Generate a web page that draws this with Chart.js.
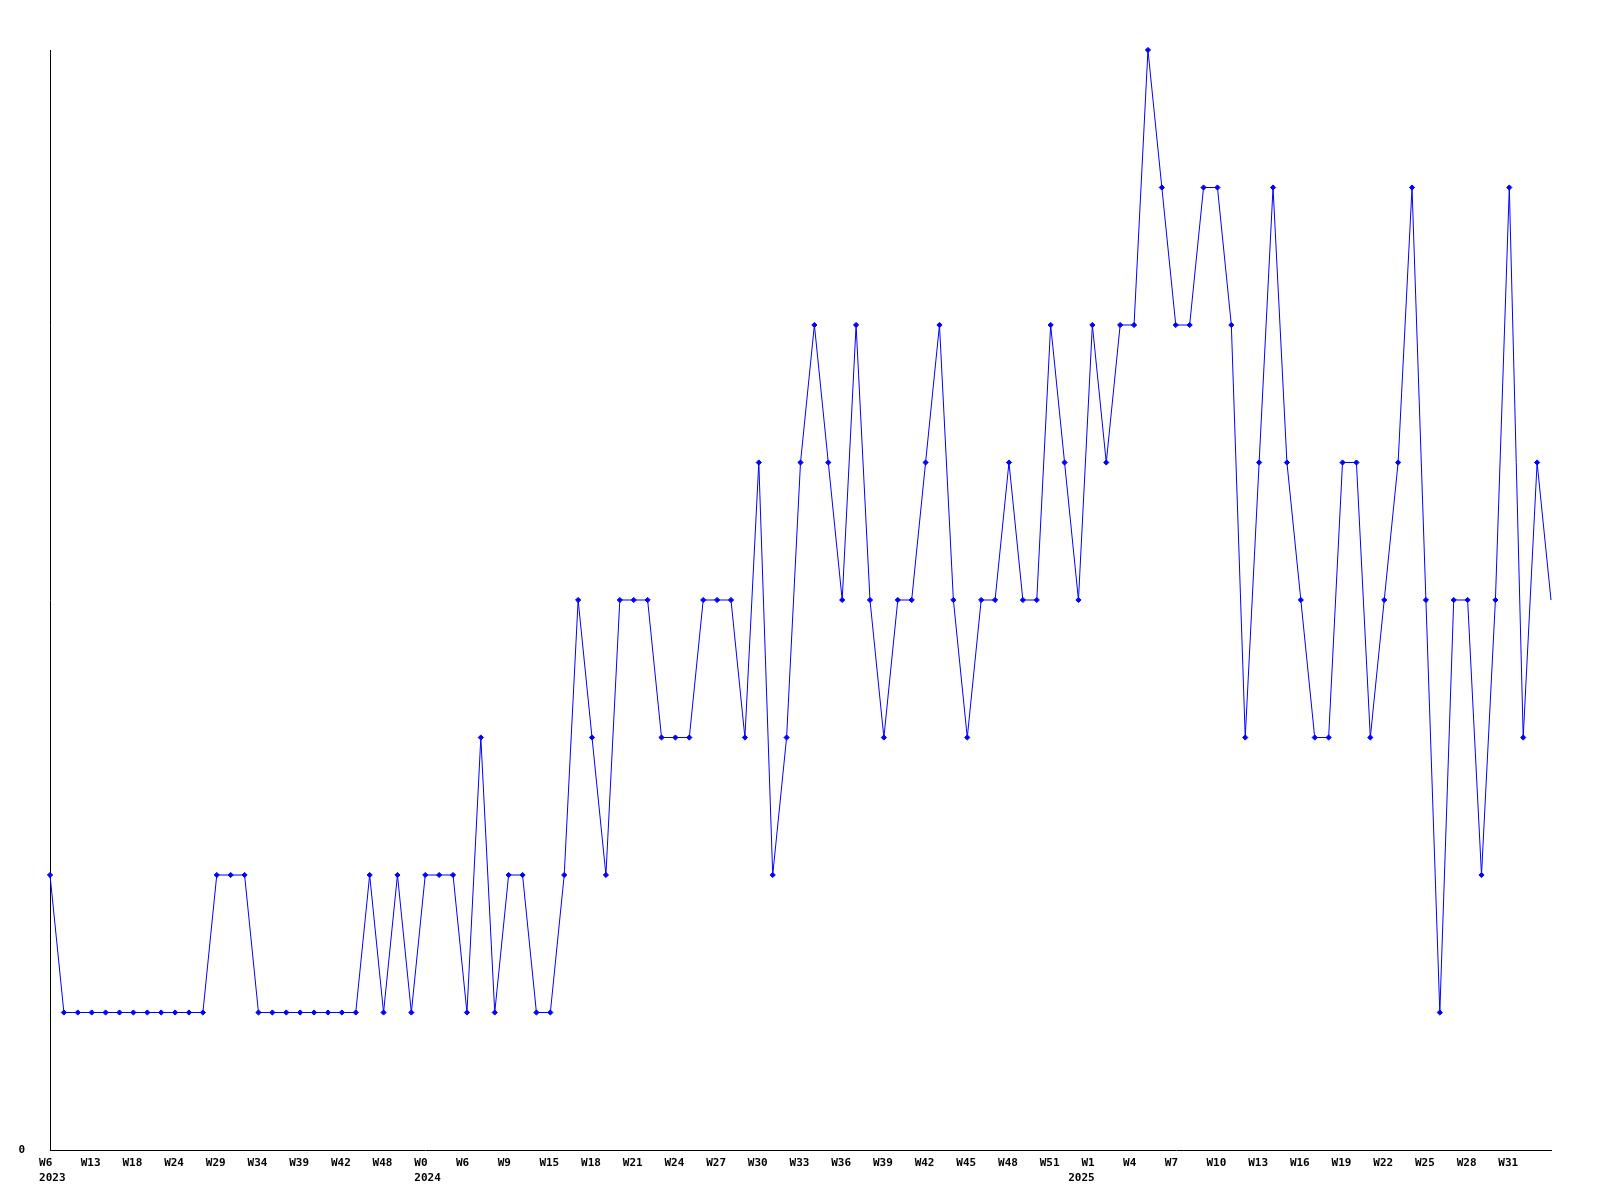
<!DOCTYPE html>
<html>
<head>
<meta charset="utf-8">
<script src="https://cdn.jsdelivr.net/npm/chart.js@4/dist/chart.umd.min.js"></script>
<style>
html,body{margin:0;padding:0;background:#fff;}
#wrap{width:1600px;height:1200px;}
</style>
</head>
<body>
<div id="wrap"><canvas id="c" width="1600" height="1200"></canvas></div>
<script>
// tick labels, one for every third week point (year on a second line where it changes)
const tickLabels = [
  ['W6','2023'],'W13','W18','W24','W29','W34','W39','W42','W48',
  ['W0','2024'],'W6','W9','W15','W18','W21','W24','W27','W30','W33','W36','W39','W42','W45','W48','W51',
  ['W1','2025'],'W4','W7','W10','W13','W16','W19','W22','W25','W28','W31'
];
// weekly values
const values = [
  2,1,1,1,1,1,1,1,1,1,1,1,2,2,2,1,1,1,1,1,1,1,1,2,1,2,1,2,2,2,
  1,3,1,2,2,1,1,2,4,3,2,4,4,4,3,3,3,4,4,4,3,5,2,3,5,6,5,4,6,4,
  3,4,4,5,6,4,3,4,4,5,4,4,6,5,4,6,5,6,6,8,7,6,6,7,7,6,3,5,7,5,
  4,3,3,5,5,3,4,5,7,4,1,4,4,2,4,7,3,5,4
];
const yMin = 0, yMax = 8;
const yTickValues = [0];

// the 2025 year line sits further left than the others in the reference
function shapeLabel(lbl) {
  if (Array.isArray(lbl)) {
    if (lbl[1] === '2025') return ['  ' + lbl[0], lbl[1]];
    return lbl.map(s => '  ' + s);
  }
  return '  ' + lbl;
}
const categories = values.map((v, i) => (i % 3 === 0 && tickLabels[i / 3] !== undefined) ? shapeLabel(tickLabels[i / 3]) : '');
const lastIndex = values.length - 1;
const FONT = { family: 'DejaVu Sans Mono', size: 11, weight: 'bold', lineHeight: 15/11 };

new Chart(document.getElementById('c'), {
  type: 'line',
  data: {
    labels: categories,
    datasets: [{
      data: values,
      borderColor: '#0000ff',
      backgroundColor: '#0000ff',
      borderWidth: 1,
      tension: 0,
      fill: false,
      clip: false,
      pointStyle: 'rectRot',
      pointRadius: ctx => ctx.dataIndex === lastIndex ? 0 : 2.6,
      pointBorderWidth: 1,
      pointBorderColor: '#0000ff',
      pointBackgroundColor: '#0000ff'
    }]
  },
  options: {
    responsive: false,
    animation: false,
    devicePixelRatio: 1,
    layout: { padding: { top: 50, right: 49, left: 0, bottom: 0 } },
    plugins: { legend: { display: false }, tooltip: { enabled: false }, title: { display: false } },
    scales: {
      x: {
        type: 'category',
        offset: false,
        grid: { display: false, drawTicks: false },
        border: { display: true, color: '#000', width: 1 },
        ticks: {
          autoSkip: false, maxRotation: 0, minRotation: 0,
          align: 'start', labelOffset: -24.2, padding: 6,
          color: '#000', font: FONT,
          callback: (v, i) => categories[i]
        },
        afterFit: s => { s.height = 50; }
      },
      y: {
        min: yMin, max: yMax,
        grid: { display: false, drawTicks: false },
        border: { display: true, color: '#000', width: 1 },
        afterBuildTicks: s => { s.ticks = yTickValues.map(v => ({ value: v })); },
        ticks: { color: '#000', font: FONT, padding: 25, callback: v => String(v) },
        afterFit: s => { s.width = 50; }
      }
    }
  }
});
</script>
</body>
</html>
